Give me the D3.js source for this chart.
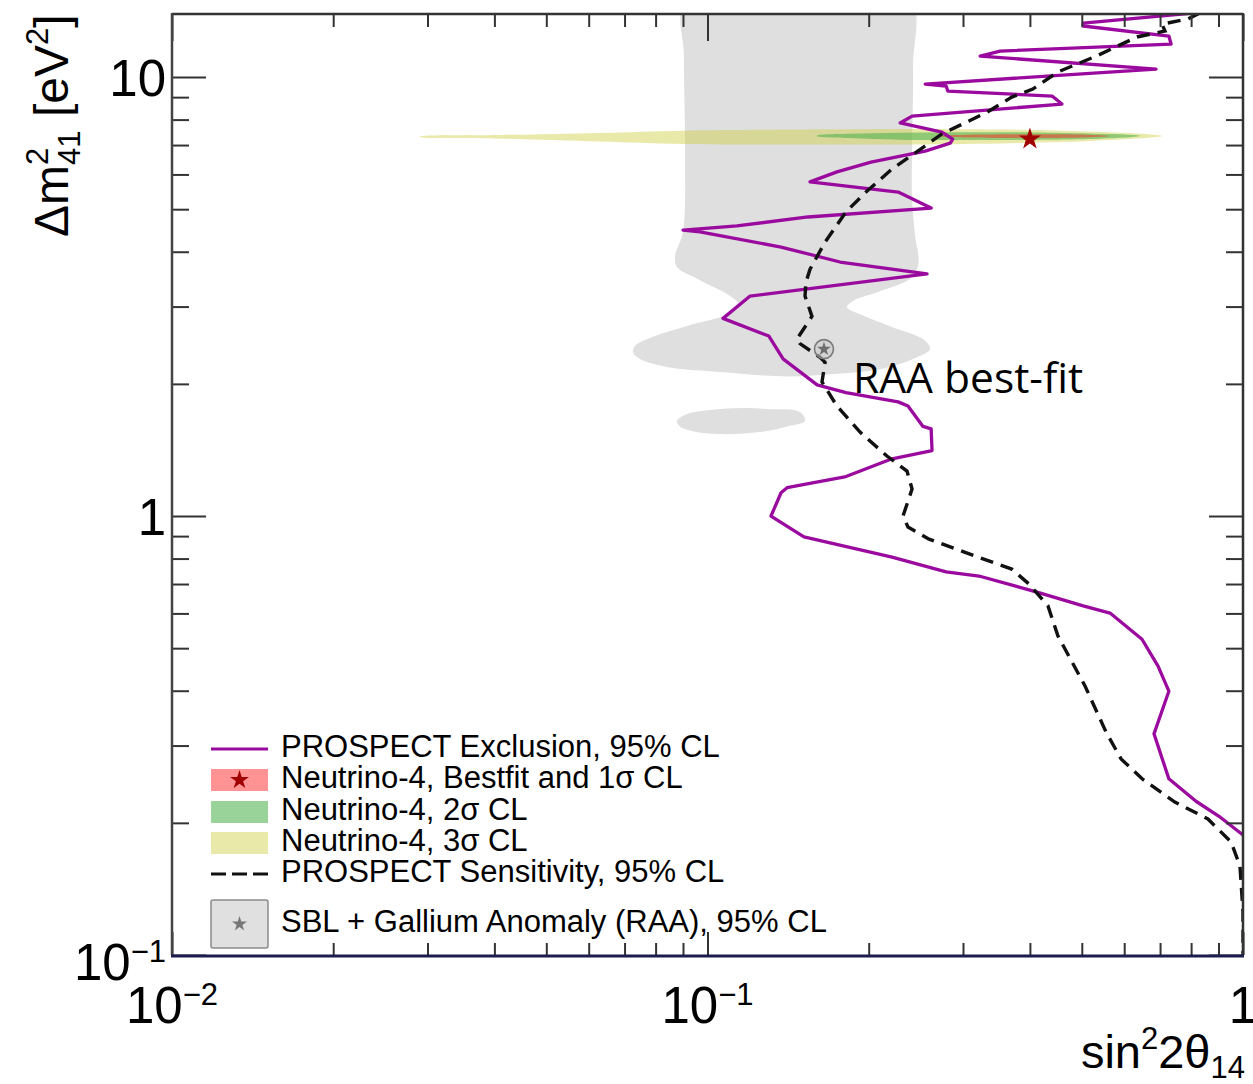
<!DOCTYPE html>
<html><head><meta charset="utf-8">
<script src="https://cdn.jsdelivr.net/npm/d3@7"></script>
<style>
body{margin:0;background:#fff}
svg{display:block}
text{font-family:"Liberation Sans",Arial,Helvetica,sans-serif;fill:#000}
</style>
</head><body>
<svg id="chart" width="1253" height="1084"></svg>
<script>
// ---------------- data (sin^2 2theta, delta m^2 [eV^2]) ----------------
const exclusion = [[0.849,14.07],[0.503,13.27],[0.503,13.07],[0.727,12.40],[0.734,11.89],[0.352,11.46],[0.323,11.16],[0.688,10.43],[0.255,9.64],[0.279,9.54],[0.281,9.29],[0.440,9.05],[0.459,8.68],[0.241,8.15],[0.229,7.86],[0.274,7.49],[0.287,7.22],[0.284,7.07],[0.255,6.78],[0.202,6.40],[0.1745,6.08],[0.1554,5.77],[0.227,5.47],[0.2616,5.03],[0.1541,4.80],[0.1135,4.58],[0.0900,4.48],[0.0968,4.44],[0.1372,4.10],[0.1768,3.79],[0.257,3.56],[0.1201,3.17],[0.1069,2.82],[0.1302,2.57],[0.1384,2.28],[0.1602,1.99],[0.1814,1.91],[0.227,1.82],[0.2368,1.78],[0.2526,1.60],[0.2616,1.58],[0.2626,1.41],[0.2211,1.35],[0.1814,1.23],[0.1408,1.16],[0.1372,1.13],[0.1314,1.00],[0.1514,0.896],[0.2211,0.806],[0.279,0.746],[0.3214,0.730],[0.4124,0.671],[0.503,0.624],[0.5645,0.601],[0.6477,0.524],[0.694,0.455],[0.727,0.399],[0.682,0.319],[0.727,0.252],[0.817,0.224],[0.902,0.207],[1.0,0.1876]];

const sensitivity = [[0.831,14.0],[0.789,13.56],[0.706,13.20],[0.715,12.73],[0.634,12.34],[0.532,11.16],[0.451,10.27],[0.405,9.39],[0.370,9.00],[0.333,8.32],[0.299,7.81],[0.274,7.42],[0.250,6.85],[0.221,6.17],[0.1986,5.50],[0.1814,4.93],[0.1658,4.21],[0.1554,3.65],[0.1527,3.41],[0.1521,3.17],[0.1567,2.85],[0.1469,2.53],[0.1488,2.47],[0.1622,2.30],[0.1658,2.24],[0.1636,2.02],[0.1745,1.78],[0.1927,1.553],[0.2163,1.370],[0.2358,1.266],[0.241,1.152],[0.2318,1.00],[0.2368,0.944],[0.2592,0.886],[0.3158,0.811],[0.370,0.757],[0.3985,0.700],[0.4323,0.624],[0.4513,0.533],[0.507,0.410],[0.555,0.322],[0.592,0.2797],[0.648,0.252],[0.746,0.2231],[0.860,0.2041],[0.950,0.1809],[0.987,0.1594],[1.0,0.1253],[1.0,0.1]];

const raaRegionMain = [[0.0912,15.0],[0.0904,10.99],[0.0908,6.85],[0.0900,4.44],[0.0870,3.91],[0.0877,3.69],[0.0956,3.47],[0.1102,3.17],[0.1140,3.04],[0.1088,2.88],[0.0916,2.71],[0.0791,2.56],[0.0732,2.44],[0.0726,2.36],[0.0748,2.28],[0.0851,2.18],[0.1055,2.13],[0.1408,2.08],[0.1745,2.11],[0.2100,2.16],[0.2420,2.28],[0.2603,2.40],[0.2526,2.53],[0.2221,2.69],[0.1927,2.88],[0.1822,2.99],[0.1870,3.09],[0.2100,3.25],[0.2389,3.47],[0.2472,3.71],[0.2472,3.99],[0.2451,4.21],[0.2410,5.27],[0.2410,6.85],[0.2420,10.59],[0.2389,15.0],[0.150,15.2]];

const raaRegionIsland = [[0.0877,1.646],[0.0916,1.707],[0.1011,1.744],[0.1165,1.762],[0.1292,1.753],[0.1488,1.725],[0.1521,1.646],[0.1408,1.60],[0.1253,1.553],[0.1055,1.537],[0.0939,1.561],[0.0888,1.60]];

const n4Sigma3 = [[0.0290,7.32],[0.0410,7.38],[0.0630,7.46],[0.0900,7.55],[0.1488,7.59],[0.2288,7.61],[0.3517,7.59],[0.4553,7.55],[0.5645,7.49],[0.6561,7.42],[0.706,7.34],[0.6561,7.26],[0.5645,7.19],[0.4553,7.11],[0.3517,7.06],[0.2288,7.02],[0.1488,7.02],[0.0900,7.04],[0.0630,7.13],[0.0410,7.24],[0.0290,7.30]];
const n4Sigma2 = [[0.1602,7.36],[0.1845,7.43],[0.2288,7.47],[0.3228,7.49],[0.4361,7.47],[0.5408,7.43],[0.6022,7.40],[0.6423,7.35],[0.6022,7.28],[0.5408,7.24],[0.4361,7.20],[0.3228,7.19],[0.2288,7.20],[0.1845,7.26],[0.1602,7.33]];
const n4Sigma1 = [[0.2717,7.34],[0.3092,7.39],[0.4001,7.41],[0.4962,7.40],[0.5645,7.34],[0.4962,7.28],[0.4001,7.26],[0.3092,7.28],[0.2717,7.33]];

const n4BestFit = [0.40, 7.22];
const raaBestFit = [0.165, 2.40];

const xMajorTicks = [0.01, 0.1, 1];
const xTickLabels = [["10","\u22122"],["10","\u22121"],["1",""]];
const xMinorTicks = [0.02,0.03,0.04,0.05,0.06,0.07,0.08,0.09,0.2,0.3,0.4,0.5,0.6,0.7,0.8,0.9];
const yMajorTicks = [0.1, 1, 10];
const yTickLabels = [["10","\u22121"],["1",""],["10",""]];
const yMinorTicks = [0.2,0.3,0.4,0.5,0.6,0.7,0.8,0.9,2,3,4,5,6,7,8,9];

const legendLabels = ["PROSPECT Exclusion, 95% CL","Neutrino-4, Bestfit and 1\u03c3 CL","Neutrino-4, 2\u03c3 CL","Neutrino-4, 3\u03c3 CL","PROSPECT Sensitivity, 95% CL","SBL + Gallium Anomaly (RAA), 95% CL"];
const legendKinds = ["line","red","green","yellow","dash","raa"];

// ---------------- drawing ----------------
const L = 172, R = 1243, T = 14, B = 955;
const svg = d3.select("#chart");
const x = d3.scaleLog().domain([0.01, 1]).range([L, R]);
const y = d3.scaleLog().domain([0.1, 13.92]).range([B, T]);

const COL = {
  purple: "#9b0a9e",
  gray: "#dfdfdf",
  yellow: "rgb(206,206,66)", yellowOp: 0.45,
  green: "rgb(70,175,70)", greenOp: 0.55,
  red: "rgb(255,40,40)", redOp: 0.5,
  star: "#a00000"
};

svg.append("defs").append("clipPath").attr("id","plotclip")
  .append("rect").attr("x",L).attr("y",T).attr("width",R-L).attr("height",B-T);
const plot = svg.append("g").attr("clip-path","url(#plotclip)");

const closedSmooth = d3.line().x(d=>x(d[0])).y(d=>y(d[1])).curve(d3.curveCatmullRomClosed.alpha(0.5));
const openLine = d3.line().x(d=>x(d[0])).y(d=>y(d[1]));

plot.append("path").attr("d", closedSmooth(raaRegionMain)).attr("fill", COL.gray);
plot.append("path").attr("d", closedSmooth(raaRegionIsland)).attr("fill", COL.gray);

plot.append("path").attr("d", closedSmooth(n4Sigma3)).attr("fill", COL.yellow).attr("fill-opacity", COL.yellowOp);
plot.append("path").attr("d", closedSmooth(n4Sigma2)).attr("fill", COL.green).attr("fill-opacity", COL.greenOp);
plot.append("path").attr("d", closedSmooth(n4Sigma1)).attr("fill", COL.red).attr("fill-opacity", COL.redOp);

plot.append("path").attr("d", openLine(exclusion)).attr("fill","none")
  .attr("stroke", COL.purple).attr("stroke-width",3.3).attr("stroke-linejoin","round");
plot.append("path").attr("d", openLine(sensitivity)).attr("fill","none")
  .attr("stroke", "#111").attr("stroke-width",3.4).attr("stroke-dasharray","13,8");

// star markers
plot.append("path").attr("d", d3.symbol(d3.symbolStar, 150)())
  .attr("transform", `translate(${x(n4BestFit[0])},${y(n4BestFit[1])})`).attr("fill", COL.star);
plot.append("circle").attr("cx", x(raaBestFit[0])).attr("cy", y(raaBestFit[1])).attr("r", 9.5)
  .attr("fill","rgba(200,200,200,0.55)").attr("stroke","#7a7a7a").attr("stroke-width",1.6);
plot.append("path").attr("d", d3.symbol(d3.symbolStar, 60)())
  .attr("transform", `translate(${x(raaBestFit[0])},${y(raaBestFit[1])})`).attr("fill","#6e6e6e");

svg.append("text").attr("x", 853).attr("y", 393)
  .style("font-family","'Open Sans',sans-serif").style("font-size","42.5px").text("RAA best-fit");

// axes (ticks inward)
function styleAxis(g){
  g.select(".domain").remove();
  g.selectAll("text").remove();
  g.selectAll("line").attr("stroke","#333").attr("stroke-width",2);
}
svg.append("g").attr("transform",`translate(0,${B})`).call(d3.axisBottom(x).tickValues(xMajorTicks).tickSize(-23).tickSizeOuter(0)).call(styleAxis);
svg.append("g").attr("transform",`translate(0,${B})`).call(d3.axisBottom(x).tickValues(xMinorTicks).tickSize(-12).tickSizeOuter(0)).call(styleAxis);
svg.append("g").attr("transform",`translate(0,${T})`).call(d3.axisTop(x).tickValues(xMajorTicks).tickSize(-27).tickSizeOuter(0)).call(styleAxis);
svg.append("g").attr("transform",`translate(0,${T})`).call(d3.axisTop(x).tickValues(xMinorTicks).tickSize(-13).tickSizeOuter(0)).call(styleAxis);
svg.append("g").attr("transform",`translate(${L},0)`).call(d3.axisLeft(y).tickValues(yMajorTicks).tickSize(-34).tickSizeOuter(0)).call(styleAxis);
svg.append("g").attr("transform",`translate(${L},0)`).call(d3.axisLeft(y).tickValues(yMinorTicks).tickSize(-17).tickSizeOuter(0)).call(styleAxis);
svg.append("g").attr("transform",`translate(${R},0)`).call(d3.axisRight(y).tickValues(yMajorTicks).tickSize(-34).tickSizeOuter(0)).call(styleAxis);
svg.append("g").attr("transform",`translate(${R},0)`).call(d3.axisRight(y).tickValues(yMinorTicks).tickSize(-17).tickSizeOuter(0)).call(styleAxis);

// frame
const frame = svg.append("g");
frame.append("line").attr("x1",L).attr("x2",R).attr("y1",T).attr("y2",T).attr("stroke","#333").attr("stroke-width",2.5);
frame.append("line").attr("x1",L).attr("x2",L).attr("y1",T-1).attr("y2",B).attr("stroke","#444").attr("stroke-width",2.5);
frame.append("line").attr("x1",R).attr("x2",R).attr("y1",T-1).attr("y2",B).attr("stroke","#333").attr("stroke-width",2.5);
frame.append("line").attr("x1",L-1).attr("x2",R+1).attr("y1",B+1).attr("y2",B+1).attr("stroke","#1c1c4e").attr("stroke-width",3);

// tick labels
const labFont = 51, supFont = 31;
xMajorTicks.forEach((v,i)=>{
  const t = svg.append("text").attr("x", x(v)).attr("y", 1023).attr("text-anchor","middle").style("font-size", labFont+"px");
  t.append("tspan").text(xTickLabels[i][0]);
  if (xTickLabels[i][1]) t.append("tspan").attr("dy",-18).style("font-size", supFont+"px").text(xTickLabels[i][1]);
});
yMajorTicks.forEach((v,i)=>{
  const off = v < 0.5 ? 25 : 19;
  const t = svg.append("text").attr("x", 166).attr("y", y(v)+off).attr("text-anchor","end").style("font-size", labFont+"px");
  t.append("tspan").text(yTickLabels[i][0]);
  if (yTickLabels[i][1]) t.append("tspan").attr("dy",-18).style("font-size", supFont+"px").text(yTickLabels[i][1]);
});

// axis titles
const yt = svg.append("text").attr("transform","translate(68,237) rotate(-90)").style("font-size","48px");
yt.append("tspan").text("\u0394m");
yt.append("tspan").attr("dy",-20).style("font-size","31px").text("2");
yt.append("tspan").attr("dx",-17.2).attr("dy",32).style("font-size","31px").text("41");
yt.append("tspan").attr("dy",-12).text(" [eV");
yt.append("tspan").attr("dy",-20).style("font-size","31px").text("2");
yt.append("tspan").attr("dy",20).text("]");

const xt = svg.append("text").attr("x", 1245).attr("y", 1068).attr("text-anchor","end").style("font-size","47px");
xt.append("tspan").text("sin");
xt.append("tspan").attr("dy",-19).style("font-size","31px").text("2");
xt.append("tspan").attr("dy",19).text("2\u03b8");
xt.append("tspan").attr("dy",10).style("font-size","31px").text("14");

// legend
const legBase = [757,788,820,851,882,932];
const lg = svg.append("g");
legendLabels.forEach((lab,i)=>{
  const by = legBase[i], cy = by - 8, kind = legendKinds[i];
  if (kind === "line") {
    lg.append("line").attr("x1",211).attr("x2",268).attr("y1",cy).attr("y2",cy).attr("stroke",COL.purple).attr("stroke-width",3);
  } else if (kind === "dash") {
    lg.append("line").attr("x1",211).attr("x2",268).attr("y1",cy).attr("y2",cy).attr("stroke","#111").attr("stroke-width",3.2).attr("stroke-dasharray","15,6");
  } else if (kind === "raa") {
    lg.append("rect").attr("x",211).attr("y",cy-24).attr("width",57).attr("height",48).attr("rx",2)
      .attr("fill","#e0e0e0").attr("stroke","#8a8a8a").attr("stroke-width",1.5);
    lg.append("path").attr("d", d3.symbol(d3.symbolStar, 70)()).attr("transform",`translate(239.5,${cy})`).attr("fill","#777");
  } else {
    const c = kind==="red" ? [COL.red,COL.redOp] : kind==="green" ? [COL.green,COL.greenOp] : [COL.yellow,COL.yellowOp];
    lg.append("rect").attr("x",211).attr("y",cy-11).attr("width",57).attr("height",22).attr("fill",c[0]).attr("fill-opacity",c[1]);
    if (kind==="red") lg.append("path").attr("d", d3.symbol(d3.symbolStar, 110)()).attr("transform",`translate(239.5,${cy})`).attr("fill",COL.star);
  }
  lg.append("text").attr("x",281).attr("y",by).style("font-size","31px").text(lab);
});
</script>
</body></html>
